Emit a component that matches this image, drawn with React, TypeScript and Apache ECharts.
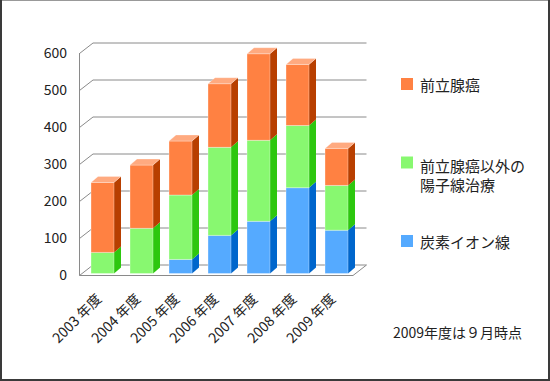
import React, { useEffect, useRef } from 'react';
import * as echarts from 'echarts';

const categories = ['2003 年度', '2004 年度', '2005 年度', '2006 年度', '2007 年度', '2008 年度', '2009 年度'];
const seriesNames = ['炭素イオン線', '前立腺癌以外の\n陽子線治療', '前立腺癌'];
const carbonIon = [0, 0, 38, 103, 141, 232, 117];
const protonOther = [57, 122, 174, 238, 219, 168, 121];
const protonProstate = [189, 171, 146, 172, 234, 165, 100];
const yTicks = [0, 100, 200, 300, 400, 500, 600];
const note = '2009年度は９月時点';

const palette = [
  { front: '#55AAFF', side: '#0066CC', top: '#99CCFF' },
  { front: '#88F870', side: '#2DC70F', top: '#BBFFAA' },
  { front: '#FF8142', side: '#B83F00', top: '#FFAA80' },
];

const FONT = '"Noto Sans CJK JP", "Noto Sans", sans-serif';
const FACE_W = 23;
const DX = 7;
const DY = 6;

function makeBarRender(colors: any, isTop: boolean) {
  return (params: any, api: any) => {
    const idx = api.value(0);
    const base = api.value(1);
    const val = api.value(2);
    if (!val) return { type: 'group', children: [] };
    const pb = api.coord([idx, base]);
    const pt = api.coord([idx, base + val]);
    const x0 = pb[0] - FACE_W / 2;
    const x1 = x0 + FACE_W;
    const yb = pb[1];
    const yt = pt[1];
    const children: any[] = [
      {
        type: 'polygon',
        shape: { points: [[x1, yt], [x1 + DX, yt - DY], [x1 + DX, yb - DY], [x1, yb]] },
        style: { fill: colors.side },
      },
      {
        type: 'rect',
        shape: { x: x0, y: yt, width: FACE_W, height: yb - yt },
        style: { fill: colors.front, stroke: 'rgba(255,255,255,0.55)', lineWidth: 0.6 },
      },
    ];
    if (isTop) {
      children.push({
        type: 'polygon',
        shape: { points: [[x0, yt], [x0 + DX, yt - DY], [x1 + DX, yt - DY], [x1, yt]] },
        style: { fill: colors.top, stroke: 'rgba(255,255,255,0.5)', lineWidth: 0.5 },
      });
    }
    return { type: 'group', children };
  };
}

const wallRender = (params: any, api: any) => {
  const v = api.value(1);
  const cs = params.coordSys;
  const left = cs.x;
  const right = cs.x + cs.width;
  const y = api.coord([0, v])[1];
  const fx = left - 3.5;
  const bx = left + 10;
  const fyo = 2;
  const byo = -8.5;
  const ls = { stroke: '#8a8a8a', lineWidth: 1, fill: 'none' };
  const children: any[] = [
    { type: 'line', shape: { x1: fx, y1: y + fyo, x2: bx, y2: y + byo }, style: ls },
    { type: 'line', shape: { x1: bx, y1: y + byo, x2: right + 10.5, y2: y + byo }, style: ls },
  ];
  if (v === 0) {
    const yTop = api.coord([0, yTicks[yTicks.length - 1]])[1];
    children.push(
      { type: 'line', shape: { x1: fx, y1: y + fyo, x2: fx, y2: yTop + 1.5 }, style: ls },
      { type: 'line', shape: { x1: fx, y1: y + fyo, x2: right - 3, y2: y + fyo }, style: ls },
      { type: 'line', shape: { x1: right - 3, y1: y + fyo, x2: right + 10.5, y2: y + byo }, style: ls },
    );
  }
  return { type: 'group', children };
};

export default function App() {
  const ref = useRef<HTMLDivElement>(null);
  useEffect(() => {
    if (!ref.current) return;
    const chart = echarts.init(ref.current, undefined, { renderer: 'svg' });
    const values = [carbonIon, protonOther, protonProstate];
    const bases = values.map((arr, s) =>
      arr.map((_, i) => values.slice(0, s).reduce((acc, a) => acc + a[i], 0)),
    );
    const barSeries = values.map((arr, s) => ({
      type: 'custom',
      name: seriesNames[s],
      renderItem: makeBarRender(palette[s], s === values.length - 1),
      data: arr.map((v, i) => [i, bases[s][i], v]),
      encode: { x: 0, y: 1 },
      silent: true,
    }));
    const legendY = [235, 156.5, 78];
    const legendTextY = [241, 155.5, 84];
    const legendGraphics: any[] = [];
    seriesNames.forEach((name, s) => {
      legendGraphics.push({
        type: 'rect',
        shape: { x: 401, y: legendY[s], width: 12, height: 12 },
        style: { fill: palette[s].front },
      });
      const multi = name.indexOf('\n') >= 0;
      legendGraphics.push({
        type: 'text',
        x: 420,
        y: legendTextY[s],
        style: {
          text: name,
          fill: '#222',
          fontSize: 15,
          fontFamily: FONT,
          lineHeight: 19,
          verticalAlign: multi ? 'top' : 'middle',
          align: 'left',
        },
      });
    });
    chart.setOption({
      animation: false,
      backgroundColor: '#ffffff',
      grid: { left: 83, right: 194, top: 51.5, bottom: 107.5 },
      xAxis: {
        type: 'category',
        data: categories,
        axisLine: { show: false },
        axisTick: { show: false },
        splitLine: { show: false },
        axisLabel: {
          rotate: 45,
          margin: 18,
          padding: [0, 6, 0, 0],
          fontSize: 14,
          fontFamily: FONT,
          color: '#222',
          interval: 0,
        },
      },
      yAxis: {
        type: 'value',
        min: 0,
        max: 600,
        interval: 100,
        axisLine: { show: false },
        axisTick: { show: false },
        splitLine: { show: false },
        axisLabel: { margin: 16, fontSize: 14, fontFamily: FONT, color: '#222' },
      },
      series: [
        {
          type: 'custom',
          name: 'walls',
          renderItem: wallRender,
          data: yTicks.map((v) => [0, v]),
          encode: { x: 0, y: 1 },
          silent: true,
        },
        ...barSeries,
      ],
      graphic: [
        ...legendGraphics,
        {
          type: 'text',
          x: 393,
          y: 332,
          style: {
            text: note,
            fill: '#222',
            fontSize: 14,
            fontFamily: FONT,
            verticalAlign: 'middle',
            align: 'left',
          },
        },
        { type: 'rect', shape: { x: 0, y: 0, width: 550, height: 1 }, style: { fill: '#999' } },
        { type: 'rect', shape: { x: 0, y: 0, width: 2, height: 381 }, style: { fill: '#3a3a3a' } },
        { type: 'rect', shape: { x: 548, y: 0, width: 2, height: 381 }, style: { fill: '#3a3a3a' } },
        { type: 'rect', shape: { x: 0, y: 379, width: 550, height: 2 }, style: { fill: '#3a3a3a' } },
      ],
    });
    return () => chart.dispose();
  }, []);
  return (
    <div
      ref={ref}
      style={{ position: 'fixed', left: 0, top: 0, width: 550, height: 381 }}
    />
  );
}
